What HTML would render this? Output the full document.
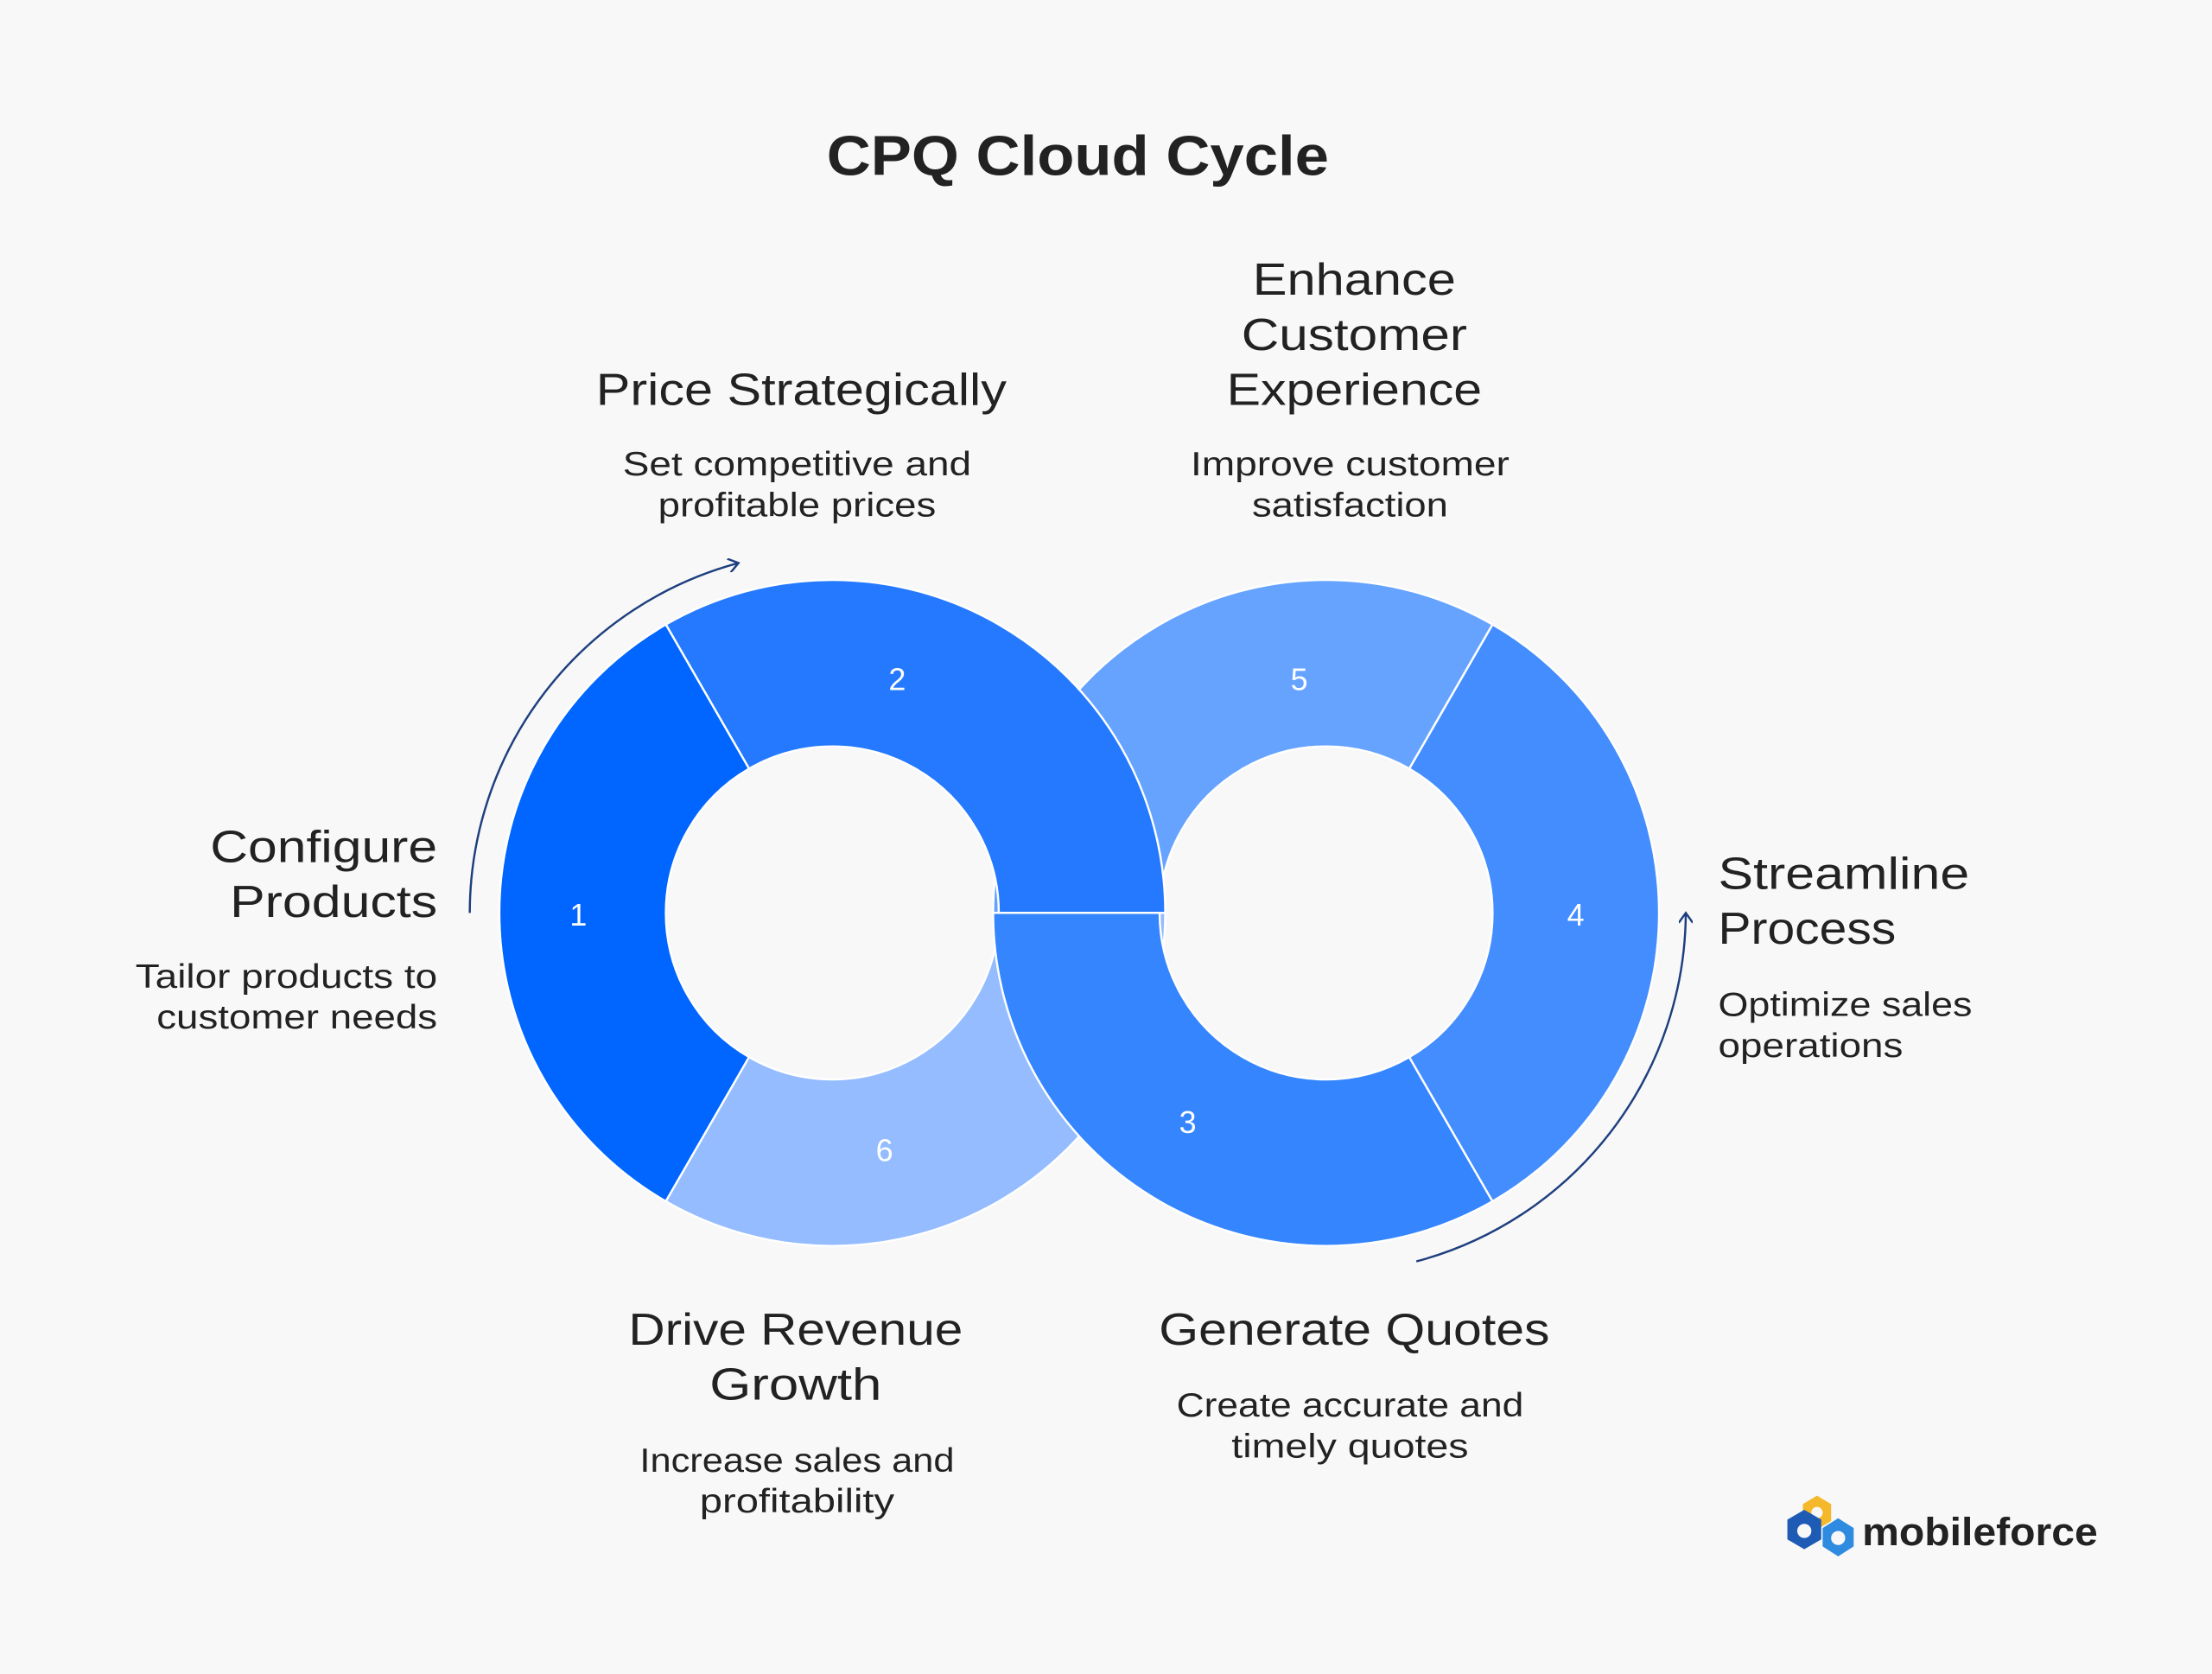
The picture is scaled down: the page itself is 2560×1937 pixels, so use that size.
<!DOCTYPE html>
<html><head><meta charset="utf-8"><style>
html,body{margin:0;padding:0;background:#f8f8f8;}
svg{display:block;}
text{font-family:"Liberation Sans",sans-serif;fill:#222;}
</style></head><body>
<svg width="2560" height="1937" viewBox="0 0 1568 1186.4" xmlns="http://www.w3.org/2000/svg">
<defs>
<marker id="ah" markerWidth="10" markerHeight="10" refX="8" refY="5" orient="auto" markerUnits="userSpaceOnUse">
<path d="M1,0 L8,5 L1,10" fill="none" stroke="#1e3f7f" stroke-width="1.5"/>
</marker>
</defs>
<rect width="1568" height="1187" fill="#f8f8f8"/>
<text x="764" y="124" text-anchor="middle" font-size="40" font-weight="bold" textLength="356" lengthAdjust="spacingAndGlyphs" fill="#1d1d1d">CPQ Cloud Cycle</text>

<g stroke="#fff" stroke-width="1.5">
<path d="M1058,442.6 A236,236 0 0 0 704,647 L822,647 A118,118 0 0 1 999,544.8 Z" fill="#66a3ff"/>
<path d="M826,647 A236,236 0 0 0 472,442.6 L531,544.8 A118,118 0 0 1 708,647 Z" fill="#2479ff"/>
<path d="M472,442.6 A236,236 0 0 0 472,851.4 L531,749.2 A118,118 0 0 1 531,544.8 Z" fill="#0066ff"/>
<path d="M472,851.4 A236,236 0 0 0 826,647 L708,647 A118,118 0 0 1 531,749.2 Z" fill="#94bcff"/>
<path d="M704,647 A236,236 0 0 0 1058,851.4 L999,749.2 A118,118 0 0 1 822,647 Z" fill="#3585ff"/>
<path d="M1058,851.4 A236,236 0 0 0 1058,442.6 L999,544.8 A118,118 0 0 1 999,749.2 Z" fill="#448dff"/>
</g>

<g font-size="22" text-anchor="middle">
<text x="410" y="656" style="fill:#fff">1</text>
<text x="636" y="489" style="fill:#fff">2</text>
<text x="921" y="489" style="fill:#fff">5</text>
<text x="1117" y="656" style="fill:#fff">4</text>
<text x="842" y="803" style="fill:#fff">3</text>
<text x="627" y="823" style="fill:#fff">6</text>
</g>

<path d="M333,647 A257,257 0 0 1 523.5,399" fill="none" stroke="#1e3f7f" stroke-width="1.5" marker-end="url(#ah)"/>
<path d="M1004,894 A257,257 0 0 0 1195,647" fill="none" stroke="#1e3f7f" stroke-width="1.5" marker-end="url(#ah)"/>

<g font-size="32" fill="#222">
<text x="310" y="611" text-anchor="end" textLength="161" lengthAdjust="spacingAndGlyphs">Configure</text>
<text x="310" y="650" text-anchor="end" textLength="147" lengthAdjust="spacingAndGlyphs">Products</text>
<text x="568" y="287" text-anchor="middle" textLength="291" lengthAdjust="spacingAndGlyphs">Price Strategically</text>
<text x="960" y="209" text-anchor="middle" textLength="144" lengthAdjust="spacingAndGlyphs">Enhance</text>
<text x="960" y="248" text-anchor="middle" textLength="160" lengthAdjust="spacingAndGlyphs">Customer</text>
<text x="960" y="287" text-anchor="middle" textLength="181" lengthAdjust="spacingAndGlyphs">Experience</text>
<text x="1218" y="630" textLength="178" lengthAdjust="spacingAndGlyphs">Streamline</text>
<text x="1218" y="669" textLength="126" lengthAdjust="spacingAndGlyphs">Process</text>
<text x="564" y="953" text-anchor="middle" textLength="237" lengthAdjust="spacingAndGlyphs">Drive Revenue</text>
<text x="564" y="992" text-anchor="middle" textLength="122" lengthAdjust="spacingAndGlyphs">Growth</text>
<text x="960" y="953" text-anchor="middle" textLength="277" lengthAdjust="spacingAndGlyphs">Generate Quotes</text>
</g>
<g font-size="24" fill="#222">
<text x="310" y="700" text-anchor="end" textLength="214" lengthAdjust="spacingAndGlyphs">Tailor products to</text>
<text x="310" y="729" text-anchor="end" textLength="199" lengthAdjust="spacingAndGlyphs">customer needs</text>
<text x="565" y="337" text-anchor="middle" textLength="247" lengthAdjust="spacingAndGlyphs">Set competitive and</text>
<text x="565" y="366" text-anchor="middle" textLength="197" lengthAdjust="spacingAndGlyphs">profitable prices</text>
<text x="957" y="337" text-anchor="middle" textLength="226" lengthAdjust="spacingAndGlyphs">Improve customer</text>
<text x="957" y="366" text-anchor="middle" textLength="139" lengthAdjust="spacingAndGlyphs">satisfaction</text>
<text x="1218" y="720" textLength="180" lengthAdjust="spacingAndGlyphs">Optimize sales</text>
<text x="1218" y="749" textLength="131" lengthAdjust="spacingAndGlyphs">operations</text>
<text x="565" y="1043" text-anchor="middle" textLength="223" lengthAdjust="spacingAndGlyphs">Increase sales and</text>
<text x="565" y="1072" text-anchor="middle" textLength="138" lengthAdjust="spacingAndGlyphs">profitability</text>
<text x="957" y="1004" text-anchor="middle" textLength="246" lengthAdjust="spacingAndGlyphs">Create accurate and</text>
<text x="957" y="1033" text-anchor="middle" textLength="168" lengthAdjust="spacingAndGlyphs">timely quotes</text>
</g>

<g>
<polygon points="1288,1060 1298,1066 1298,1078 1288,1084 1278,1078 1278,1066" fill="#f5b82a"/>
<circle cx="1288" cy="1072" r="4" fill="#f8f8f8"/>
<polygon points="1279,1070 1291,1077 1291,1091 1279,1098 1267,1091 1267,1077" fill="#1d5bb5"/>
<circle cx="1279" cy="1085" r="5" fill="#f8f8f8"/>
<polygon points="1303,1076 1314,1083 1314,1096 1303,1103 1292,1096 1292,1083" fill="#2f8be0"/>
<circle cx="1303" cy="1090" r="5" fill="#f8f8f8"/>
<text x="1320" y="1095" font-size="28" font-weight="bold" textLength="167" lengthAdjust="spacingAndGlyphs" fill="#111">mobileforce</text>
</g>
</svg>
</body></html>
